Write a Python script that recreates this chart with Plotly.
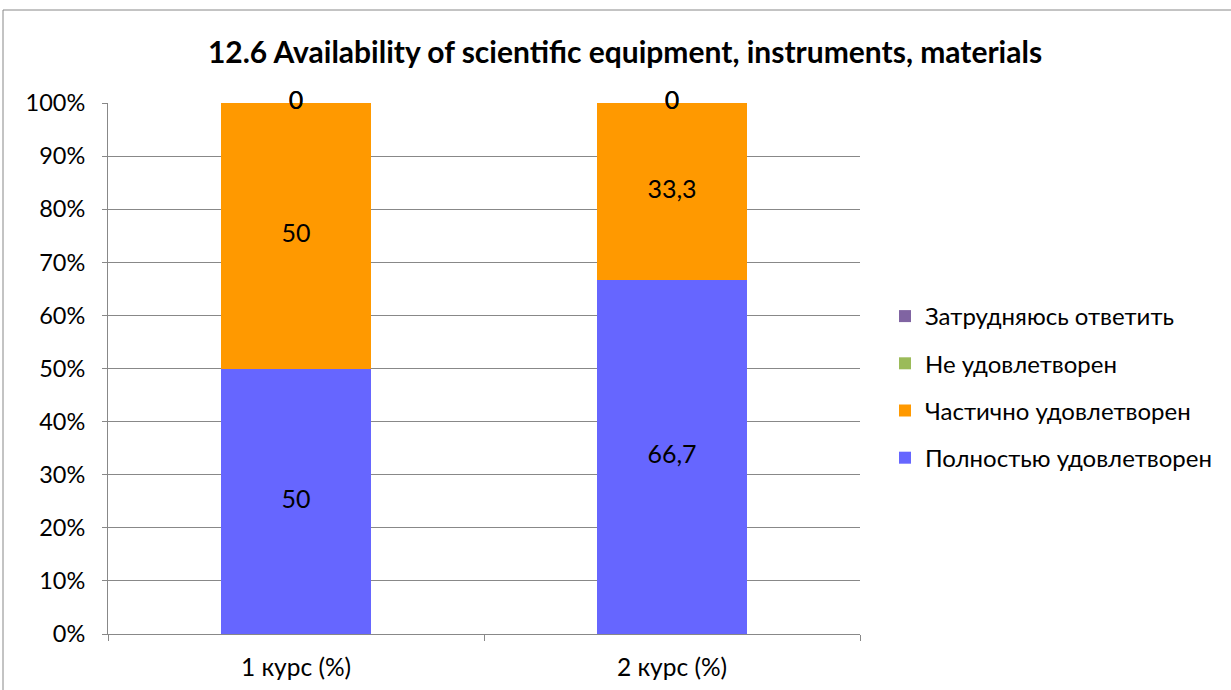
import plotly.graph_objects as go

categories = ["1 курс (%)", "2 курс (%)"]
series_names = ["Полностью удовлетворен", "Частично удовлетворен", "Не удовлетворен", "Затрудняюсь ответить"]
full = [50, 66.7]
partial = [50, 33.3]
notsat = [0, 0]
hard = [0, 0]
values = [full, partial, notsat, hard]
colors = ["#6666FF", "#FF9900", "#9BBB59", "#8064A2"]
title = "12.6 Availability of scientific equipment, instruments, materials"

FONT = "Lato"

def fmt(v):
    s = ("%g" % v)
    return s.replace(".", ",")

fig = go.Figure()
totals = [sum(v[i] for v in values) for i in range(len(categories))]
n = len(series_names)
for idx, (name, vals, col) in enumerate(zip(series_names, values, colors)):
    pct = [v / t * 100 for v, t in zip(vals, totals)]
    fig.add_trace(go.Bar(
        x=categories, y=pct, name=name, marker=dict(color=col, line=dict(width=0)),
        legendgroup=name, legendrank=n - idx, hoverinfo="skip",
    ))

# data labels at segment centers (computed from data)
lab_x, lab_y, lab_t = [], [], []
for i, cat in enumerate(categories):
    base = 0
    for vals in values:
        p = vals[i] / totals[i] * 100
        lab_x.append(cat)
        lab_y.append(base + p / 2)
        lab_t.append(fmt(vals[i]))
        base += p
fig.add_trace(go.Scatter(
    x=lab_x, y=lab_y, text=lab_t, mode="text", textposition="middle center", cliponaxis=False,
    textfont=dict(family=FONT, size=25, color="black"), showlegend=False, hoverinfo="skip",
))

W, H = 1231, 690
L, R, T, B = 108, 860, 103, 634
pw, ph = R - L, B - T

fig.update_layout(
    width=W, height=H,
    barmode="stack", bargap=0.6,
    margin=dict(l=L, r=W - R, t=T, b=H - B, autoexpand=False),
    paper_bgcolor="white", plot_bgcolor="white",
    font=dict(family=FONT, size=23.5, color="black"),
    title=dict(text="<b>" + title + "</b>", x=625 / W, xanchor="center", y=1 - 52 / H,
               yanchor="middle", font=dict(family=FONT, size=30, color="black")),
    legend=dict(x=(885 - L) / pw, xanchor="left", y=(B - 294) / ph, yanchor="top",
                traceorder="grouped", tracegroupgap=13,
                font=dict(family=FONT, size=24, color="black"), bgcolor="rgba(0,0,0,0)"),
    shapes=[dict(type="rect", xref="paper", yref="paper",
                 x0=(3 - L) / pw, x1=(W + 5 - L) / pw, y0=(B - (H + 5)) / ph, y1=(B - 10) / ph,
                 line=dict(color="#888888", width=1), fillcolor="rgba(0,0,0,0)", layer="below")],
)
fig.update_yaxes(range=[0, 100], dtick=10, ticksuffix="%", showgrid=True, gridcolor="#888888", gridwidth=1,
                 showline=True, linecolor="#888888", ticks="outside", ticklen=5, tickcolor="#888888",
                 zeroline=False, ticklabelstandoff=12, automargin=False, fixedrange=True)
fig.update_xaxes(showline=True, linecolor="#888888", ticks="outside", ticklen=6, tickcolor="#888888",
                 tickson="boundaries", showgrid=False, ticklabelstandoff=12, automargin=False,
                 tickfont=dict(size=24.5))

fig.write_html("out.html", config={"displayModeBar": False},
               post_script="document.body.style.margin='0';document.body.style.overflow='hidden';")
